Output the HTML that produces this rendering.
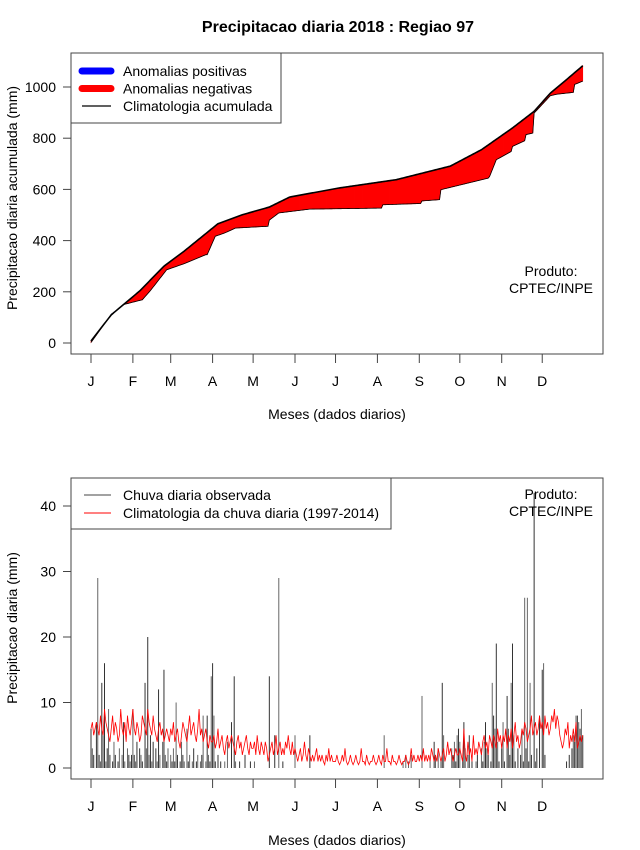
<!DOCTYPE html>
<html><head><meta charset="utf-8"><style>
body{margin:0;background:#fff}
svg{display:block;font-family:"Liberation Sans",sans-serif}
</style></head><body>
<svg id="c" width="640" height="850" viewBox="0 0 640 850">
<rect width="640" height="850" fill="#fff"/>
<text x="338" y="32" text-anchor="middle" font-size="16" font-weight="bold">Precipitacao diaria 2018 : Regiao 97</text>
<g id="topchart"></g>
<g id="botchart"></g>
</svg>
<script>
// Top chart: accumulated values (mm) at given days
const climDays=[1,16,37,55,70,95,113,133,148,184,227,267,290,313,329,341,353,365];
const climAcc=[8,110,203,300,359,466,501,531,570,605,638,691,755,840,905,976,1029,1083];
const obsDays=[1,16,25,39,45,57,70,86,87,93,100,108,132,133,140,163,216,217,245,246,259,260,295,296,301,312,313,322,323,328,329,341,346,358,359,365];
const obsAcc=[2,112,150,169,205,286,310,345,345,417,430,449,456,480,508,523,527,540,545,555,560,599,644,650,716,748,768,790,814,820,898,966,972,979,1010,1023];
const topTicks=[0,200,400,600,800,1000];
const months=["J","F","M","A","M","J","J","A","S","O","N","D"];
const monthStart=[1,32,60,91,121,152,182,213,244,274,305,335];
// Bottom chart: daily values (mm)
const obsDaily=[
6,3,2,0,7,29,2,1,13,5,16,1,3,9,2,0,1,4,2,0,1,3,0,2,7,1,0,3,2,1,2,
9,2,1,4,0,3,2,1,0,13,3,20,2,5,1,4,0,3,1,12,2,0,4,15,2,1,3,0,
2,1,3,1,10,2,0,1,4,2,1,0,6,1,2,0,1,3,0,1,2,0,1,2,8,0,1,8,2,1,14,
16,8,1,0,2,0,1,0,0,1,0,4,0,0,7,0,14,1,0,0,1,0,0,0,2,0,0,0,1,0,
0,1,0,0,0,0,0,0,0,0,0,0,14,0,0,0,5,0,0,29,0,0,1,0,0,0,0,0,0,0,0,
5,0,0,0,0,0,0,0,0,0,0,5,0,0,0,0,0,0,0,0,0,0,0,0,0,0,0,0,0,0,
0,0,0,0,0,0,0,0,0,0,0,0,0,0,0,0,0,0,0,0,0,0,0,0,0,0,0,0,0,0,0,
0,0,0,0,0,5,0,0,0,0,0,0,0,0,0,0,0,0,0,1,0,2,0,1,0,2,0,0,0,0,0,
0,0,11,0,0,0,0,0,1,0,0,4,2,0,3,0,1,13,5,0,0,0,0,0,3,2,4,1,5,6,
4,0,1,7,3,0,2,5,0,1,0,0,1,2,0,0,3,1,4,7,3,2,0,1,13,8,6,19,4,1,0,
3,7,1,0,11,6,2,13,19,5,1,0,3,0,2,6,1,26,3,26,1,13,2,0,42,1,3,0,8,0,
15,16,2,0,0,0,0,0,0,0,0,0,0,0,0,0,0,0,1,0,2,0,3,5,4,8,8,7,6,9,5];
const climDaily=[
6,7,5,6,7,6,5,8,6,5,9,7,6,5,4,6,8,5,7,6,4,5,9,6,5,7,4,8,6,5,7,
9,6,5,7,6,4,5,8,7,6,5,9,7,6,5,8,6,5,4,6,7,5,6,4,5,6,5,4,
6,5,7,4,5,6,4,3,5,7,6,5,4,6,8,5,6,7,5,4,6,9,5,6,4,5,6,4,3,5,4,
4,5,3,4,6,3,4,5,3,2,4,5,3,4,5,4,3,2,4,5,3,4,2,3,4,5,3,2,4,3,
3,4,2,5,3,2,4,3,2,4,3,1,2,3,4,2,3,5,2,3,4,2,3,2,4,3,5,3,2,4,2,
3,2,1,2,3,1,2,4,2,1,3,2,1,2,1,2,3,1,2,1,2,1,0.5,2,1,3,1,2,1,1,
1,2,1,0.5,1,2,1,3,1,0.5,1,2,1,0.5,1,2,1,0.5,1,3,1,1,0.5,2,1,0.5,1,1,2,1,0.5,
1,2,1,0.5,2,1,1,3,1,1,0.5,2,1,1,0.5,1,2,1,0.5,1,1,2,1,0.5,1,3,1,2,1,1,2,
1,2,1,3,1,2,1,2,1,3,2,1,2,1,3,2,1,2,3,1,2,4,2,3,2,1,2,3,2,2,
3,2,1,6,2,1,4,2,3,1,5,2,3,2,4,3,2,4,5,3,4,2,5,4,3,5,4,3,6,4,5,
3,5,4,6,3,5,4,6,3,5,7,4,5,3,4,6,5,7,6,4,5,6,8,5,6,7,5,6,8,6,
7,5,8,6,7,5,6,8,7,9,6,8,7,5,4,3,4,6,5,7,3,5,4,6,4,7,3,4,5,4,5];
const botTicks=[0,10,20,30,40];

const NS="http://www.w3.org/2000/svg";
function mk(parent,tag,attrs,text){const e=document.createElementNS(NS,tag);for(const k in attrs)e.setAttribute(k,attrs[k]);if(text!==undefined)e.textContent=text;parent.appendChild(e);return e;}
const xd=d=>91+(d-1)*1.351;
const yT=v=>343-v*0.256;
const yB=v=>768-v*6.55;
function interp(days,vals,d){for(let i=0;i<days.length-1;i++){if(d>=days[i]&&d<=days[i+1]){const t=(d-days[i])/(days[i+1]-days[i]||1);return vals[i]+t*(vals[i+1]-vals[i]);}}return vals[vals.length-1];}

function frame(g,y0,y1,ticks,yf,ylab,ylabY,axY){
  const box=mk(g,'rect',{x:71,y:y0,width:532,height:y1-y0,fill:'none',stroke:'#444','stroke-width':1});
  
  
  ticks.forEach(v=>{
    const yy=yf(v);
    const tl=mk(g,'line',{x1:71,x2:63,y1:yy,y2:yy,stroke:'#444'});
    
    
    const tx=mk(g,'text',{x:56,y:yy+5,'text-anchor':'end','font-size':14},String(v));
    
    
  });
  monthStart.forEach((d,i)=>{
    const xx=xd(d);
    const tl=mk(g,'line',{x1:xx,x2:xx,y1:y1,y2:y1+9,stroke:'#444'});
    
    
    const tx=mk(g,'text',{x:xx,y:y1+32,'text-anchor':'middle','font-size':14},months[i]);
    
    
  });
  const xl=mk(g,'text',{x:337,y:axY,'text-anchor':'middle','font-size':14},'Meses (dados diarios)');
  
  
  const yl=mk(g,'text',{x:0,y:0,'text-anchor':'middle','font-size':14,transform:`translate(17,${ylabY}) rotate(-90)`},ylab);
  
  
}

// ---------- TOP ----------
const topG=document.getElementById('topchart');
frame(topG,53,354,topTicks,yT,'Precipitacao diaria acumulada (mm)',198,419);
const fills=mk(topG,'g',{});


for(let d=1;d<365;d++){
  const c0=interp(climDays,climAcc,d),c1=interp(climDays,climAcc,d+1);
  const o0=interp(obsDays,obsAcc,d),o1=interp(obsDays,obsAcc,d+1);
  const col=(o0+o1)>(c0+c1)?'#0000ff':'#ff0000';
  const p=mk(fills,'polygon',{points:`${xd(d)},${yT(c0)} ${xd(d+1)},${yT(c1)} ${xd(d+1)},${yT(o1)} ${xd(d)},${yT(o0)}`,fill:col,stroke:col,'stroke-width':0.6});
  
  
}
let op='',cp='';
for(let d=1;d<=365;d++){op+=(d>1?' ':'')+xd(d)+','+yT(interp(obsDays,obsAcc,d));cp+=(d>1?' ':'')+xd(d)+','+yT(interp(climDays,climAcc,d));}
const ol=mk(topG,'polyline',{points:op,fill:'none',stroke:'#000','stroke-width':0.8});


const cl=mk(topG,'polyline',{points:cp,fill:'none',stroke:'#000','stroke-width':1.6});


const prod1=mk(topG,'text',{x:551,y:276,'text-anchor':'middle','font-size':14},'Produto:');


const prod2=mk(topG,'text',{x:551,y:293,'text-anchor':'middle','font-size':14},'CPTEC/INPE');


const lg=mk(topG,'g',{});


mk(lg,'rect',{x:71,y:53,width:210,height:70,fill:'#fff',stroke:'#444'});
[['#0000ff',7,'Anomalias positivas'],['#ff0000',7,'Anomalias negativas'],['#000',1.3,'Climatologia acumulada']].forEach((e,i)=>{
  const yy=71+i*17.5;
  const ln=mk(lg,'line',{x1:82,x2:111,y1:yy,y2:yy,stroke:e[0],'stroke-width':e[1],'stroke-linecap':e[1]>2?'round':'butt'});
  
  
  const t=mk(lg,'text',{x:123,y:yy+5,'font-size':14},e[2]);
  
  
});

// ---------- BOTTOM ----------
const botG=document.getElementById('botchart');
frame(botG,478,779,botTicks,yB,'Precipitacao diaria (mm)',628,845);
const bars=mk(botG,'g',{});


obsDaily.forEach((v,i)=>{
  const xx=xd(i+1);
  const b=mk(bars,'line',{x1:xx,x2:xx,y1:yB(0),y2:yB(Math.min(v,44.5)),stroke:i%2?'#666':'#333','stroke-width':1});
  
  
});
let cd='';
climDaily.forEach((v,i)=>{cd+=(i?' ':'')+xd(i+1)+','+yB(v);});
const cdl=mk(botG,'polyline',{points:cd,fill:'none',stroke:'#ff0000','stroke-width':0.8});


const p3=mk(botG,'text',{x:551,y:499,'text-anchor':'middle','font-size':14},'Produto:');


const p4=mk(botG,'text',{x:551,y:516,'text-anchor':'middle','font-size':14},'CPTEC/INPE');


const lg2=mk(botG,'g',{});


mk(lg2,'rect',{x:71,y:478,width:320,height:51,fill:'#fff',stroke:'#444'});
[['#444','Chuva diaria observada'],['#ff0000','Climatologia da chuva diaria (1997-2014)']].forEach((e,i)=>{
  const yy=495+i*18;
  const ln=mk(lg2,'line',{x1:84,x2:111,y1:yy,y2:yy,stroke:e[0],'stroke-width':1});
  
  
  const t=mk(lg2,'text',{x:123,y:yy+5,'font-size':14},e[1]);
  
  
});
</script>
</body></html>
